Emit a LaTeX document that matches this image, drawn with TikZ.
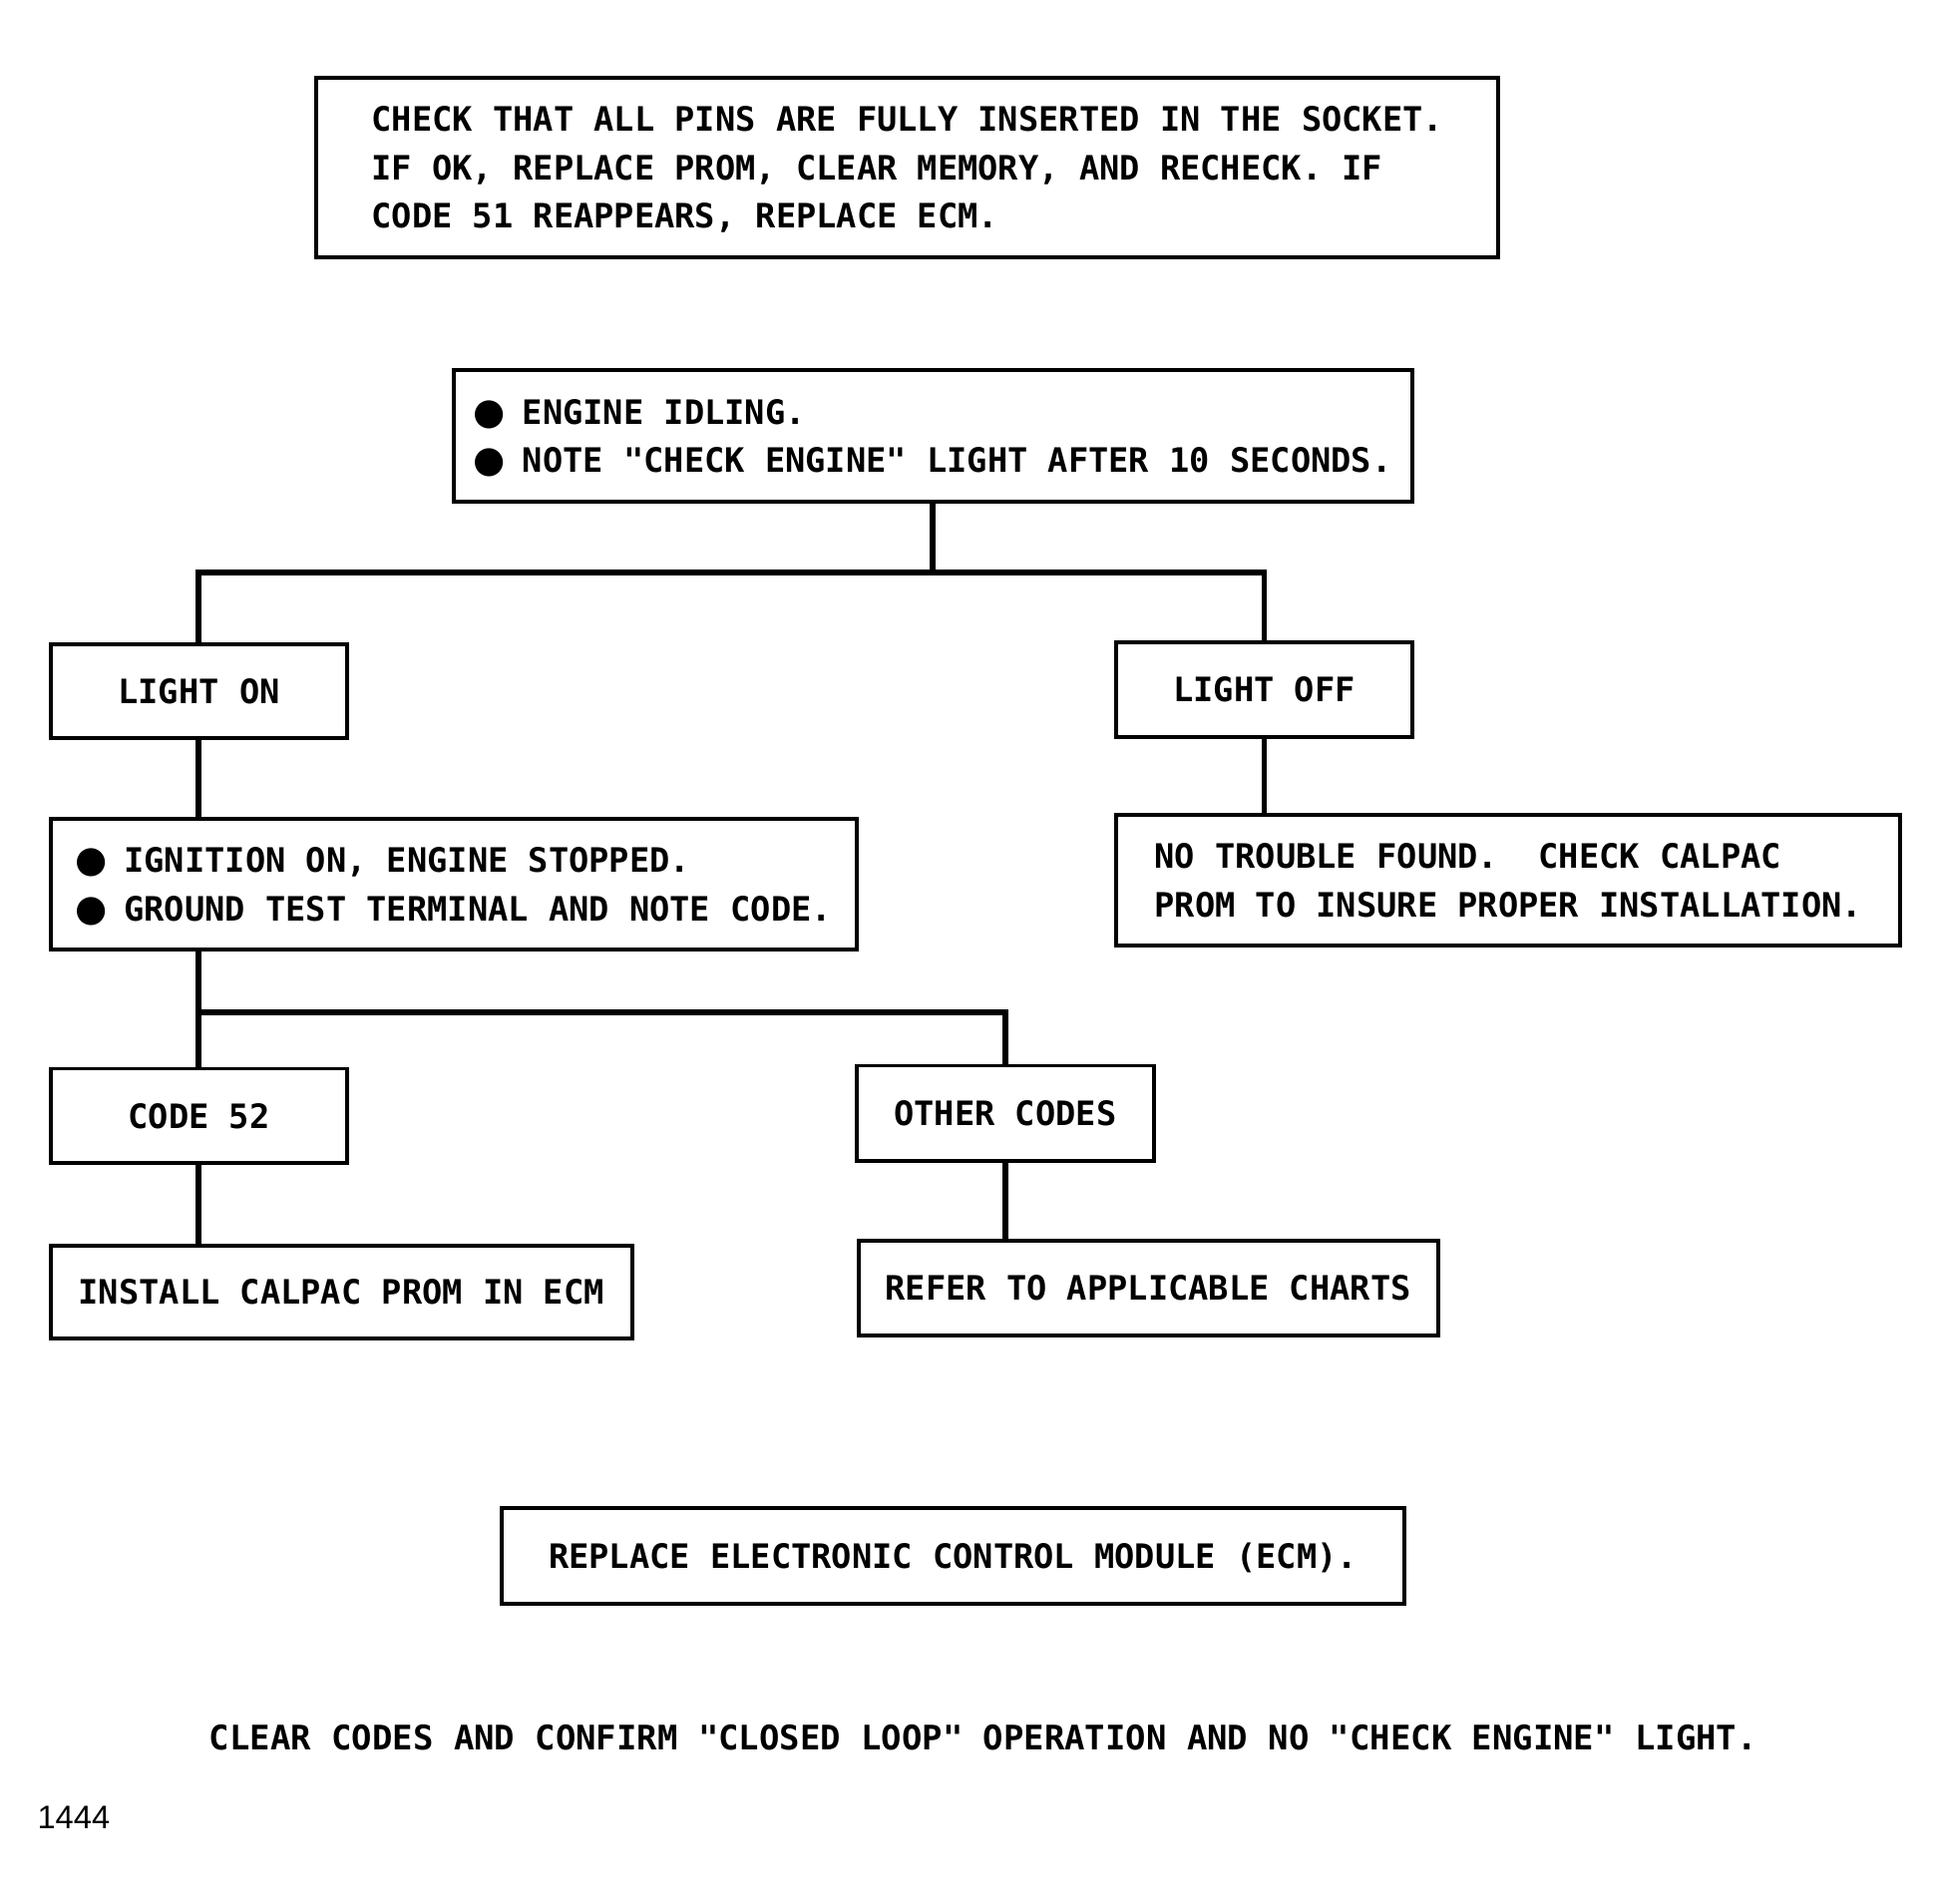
\documentclass[tikz,border=0pt]{standalone}
\usepackage{fontspec}
\newfontfamily\plotfont{DejaVu Sans Mono}
\newfontfamily\symfont{DejaVu Sans}
\newfontfamily\numfont{Liberation Sans}
\newcommand{\bul}{{\symfont\fontsize{10.5}{11}\selectfont ●}\hspace{0.5em}}

\begin{document}
\begin{tikzpicture}[x=0.00995cm,y=-0.00995cm,
  box/.style={draw,line width=1.1pt,inner sep=0pt,align=left,text depth=0pt,
    font=\plotfont\bfseries\fontsize{9.58}{13.7}\selectfont},
  plain/.style={font=\plotfont\bfseries\fontsize{9.65}{13.7}\selectfont},
  link/.style={line width=1.7pt}]
  \useasboundingbox (0,0) rectangle (1954,1918);
  \node[box,minimum width=11.85cm,minimum height=1.80cm] (check) at (914.5,168.5)
    {CHECK THAT ALL PINS ARE FULLY INSERTED IN THE SOCKET.\\
     IF OK, REPLACE PROM, CLEAR MEMORY, AND RECHECK. IF\\
     CODE 51 REAPPEARS, REPLACE ECM.};
  \node[box,minimum width=9.61cm,minimum height=1.32cm] (idle) at (940,439.5)
    {\bul ENGINE IDLING.\\
     \bul NOTE "CHECK ENGINE" LIGHT AFTER 10 SECONDS.};
  \node[box,minimum width=2.975cm,minimum height=0.945cm] (on) at (200.5,696.5) {LIGHT ON};
  \node[box,minimum width=2.965cm,minimum height=0.955cm] (off) at (1274,695) {LIGHT OFF};
  \node[box,minimum width=8.08cm,minimum height=1.313cm] (ign) at (457,891)
    {\bul IGNITION ON, ENGINE STOPPED.\\
     \bul GROUND TEST TERMINAL AND NOTE CODE.};
  \node[box,minimum width=7.86cm,minimum height=1.313cm] (ntf) at (1520,887)
    {NO TROUBLE FOUND.\ \ CHECK CALPAC\\
     PROM TO INSURE PROPER INSTALLATION.};
  \node[box,minimum width=2.975cm,minimum height=0.945cm] (c52) at (200.5,1124.5) {CODE 52};
  \node[box,minimum width=2.985cm,minimum height=0.955cm] (other) at (1013,1122) {OTHER CODES};
  \node[box,minimum width=5.83cm,minimum height=0.935cm] (inst) at (344,1302) {INSTALL CALPAC PROM IN ECM};
  \node[box,minimum width=5.81cm,minimum height=0.955cm] (refer) at (1157,1298) {REFER TO APPLICABLE CHARTS};
  \node[box,minimum width=9.045cm,minimum height=0.955cm] (ecm) at (960.5,1568) {REPLACE ELECTRONIC CONTROL MODULE (ECM).};
  \node[plain] (clear) at (991,1751)
    {CLEAR CODES AND CONFIRM "CLOSED LOOP" OPERATION AND NO "CHECK ENGINE" LIGHT.};
  \node[font=\numfont\fontsize{9.3}{11}\selectfont,anchor=west,inner sep=0pt] (fig) at (37,1832) {1444};
  % branches
  \coordinate (fork1) at (940,577);
  \coordinate (fork2) at (200.5,1020);
  \draw[link] (idle) -- (fork1);
  \draw[link] (on) |- (fork1) -| (off);
  \draw[link] (on.south) -- (on.south |- ign.north);
  \draw[link] (off.south) -- (off.south |- ntf.north);
  \draw[link] (c52.north |- ign.south) -- (c52.north);
  \draw[link] (fork2) -| (other.north);
  \draw[link] (c52.south) -- (inst.north -| c52.south);
  \draw[link] (other.south) -- (other.south |- refer.north);
\end{tikzpicture}
\end{document}
